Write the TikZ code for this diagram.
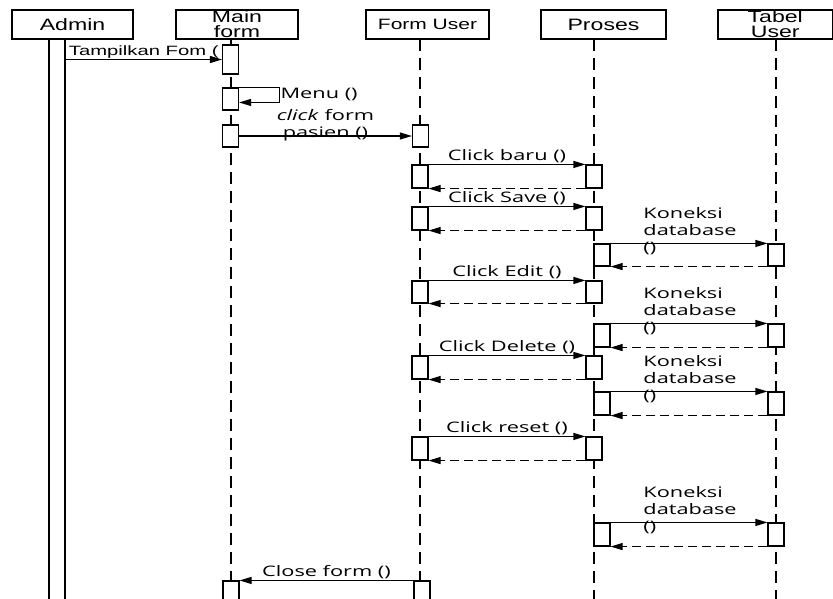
\documentclass[tikz,border=0pt]{standalone}
\usepackage{fontspec}
\newfontfamily\headfont[FakeStretch=1.4]{Liberation Sans}
\newfontfamily\msgfont[FakeStretch=1.5]{Open Sans}
\newfontfamily\tamfont[FakeStretch=1.5]{Liberation Sans}
\usetikzlibrary{arrows.meta}
\tikzset{
	head/.style={draw,line width=1.1pt,minimum height=29pt,inner sep=0pt,align=center,font=\headfont\fontsize{16.5}{15}\selectfont},
	life/.style={line width=1.1pt,dash pattern=on 12pt off 7pt},
	act/.style={draw,fill=white,line width=1.1pt,minimum width=16pt,inner sep=0pt},
	msg/.style={line width=1.1pt,-{Triangle[length=12pt,width=7pt]}},
	ret/.style={msg,dash pattern=on 9pt off 5pt},
	lbl/.style={font=\msgfont\fontsize{14.5}{17}\selectfont,inner sep=1pt},
	kon/.style={lbl,align=left,anchor=west,pos=0.2,yshift=12pt}
}
\newcommand{\activ}[4]{\node[act,minimum height={#4-#3}] (#1) at (#2,{(#3+#4)/2}) {};}

\begin{document}
\begin{tikzpicture}[x=1pt,y=-1pt]
		\useasboundingbox (0,0) rectangle (833,598);
		\node[head,minimum width=121pt] (admin) at (72.5,24.5) {Admin};
		\node[head,minimum width=122pt] (mainform) at (237,24.5) {Main\\form};
		\node[head,minimum width=123pt,font=\headfont\fontsize{15}{15}\selectfont] (formuser) at (427.5,24.5) {Form User};
		\node[head,minimum width=125pt] (proses) at (603.5,24.5) {Proses};
		\node[head,minimum width=114.5pt] (tabeluser) at (775.25,24.5) {Tabel\\User};
		\foreach \x in {231,420,594,776}
			\draw[life] (\x,39) -- (\x,600);
		\activ{adm}{57}{39}{610}
		\activ{m1}{230.5}{45}{74}
		\activ{m2}{230.5}{88}{110}
		\activ{m3}{230.5}{125}{147}
		\activ{f1}{420.5}{125}{147}
		\activ{f2}{420}{165}{188}
		\activ{p2}{594}{165}{188}
		\activ{f3}{420}{207}{230}
		\activ{p3}{594}{207}{230}
		\activ{k1}{602}{244}{266}
		\activ{t1}{776}{244}{266}
		\activ{f4}{420}{281}{303}
		\activ{p4}{594}{281}{303}
		\activ{k2}{602}{324}{347}
		\activ{t2}{776}{324}{347}
		\activ{f5}{420}{356}{379}
		\activ{p5}{594}{356}{379}
		\activ{k3}{602}{392}{415}
		\activ{t3}{776}{392}{415}
		\activ{f6}{420}{437}{460}
		\activ{p6}{594}{437}{460}
		\activ{k4}{602}{523}{546}
		\activ{t4}{776}{523}{546}
		\activ{m4}{231}{581}{610}
		\activ{f7}{422}{581}{610}
		\draw[msg] (adm.east |- m1.west) -- node[above,inner sep=1pt,font=\tamfont\fontsize{13.5}{15}\selectfont] {Tampilkan Fom (} (m1.west);
		\draw[msg] (m2.north east) -- ++(40,0) -- node[lbl,right] {Menu ()} ++(0,15) -- ++(-40,0);
		\draw[msg] (m3.east) -- node[lbl,align=center,yshift=11pt] {\textit{click} form\\pasien ()} (f1.west);
		\draw[msg] (f2.north east) -- node[lbl,above] {Click baru ()} (p2.north west);
		\draw[ret] (p2.south west) -- (f2.south east);
		\draw[msg] (f3.north east) -- node[lbl,above] {Click Save ()} (p3.north west);
		\draw[ret] (p3.south west) -- (f3.south east);
		\draw[msg] (k1.north east) -- node[kon] {Koneksi\\database\\()} (t1.north west);
		\draw[ret] (t1.south west) -- (k1.south east);
		\draw[msg] (f4.north east) -- node[lbl,above] {Click Edit ()} (p4.north west);
		\draw[ret] (p4.south west) -- (f4.south east);
		\draw[msg] (k2.north east) -- node[kon] {Koneksi\\database\\()} (t2.north west);
		\draw[ret] (t2.south west) -- (k2.south east);
		\draw[msg] (f5.north east) -- node[lbl,above] {Click Delete ()} (p5.north west);
		\draw[ret] (p5.south west) -- (f5.south east);
		\draw[msg] (k3.north east) -- node[kon] {Koneksi\\database\\()} (t3.north west);
		\draw[ret] (t3.south west) -- (k3.south east);
		\draw[msg] (f6.north east) -- node[lbl,above] {Click reset ()} (p6.north west);
		\draw[ret] (p6.south west) -- (f6.south east);
		\draw[msg] (k4.north east) -- node[kon] {Koneksi\\database\\()} (t4.north west);
		\draw[ret] (t4.south west) -- (k4.south east);
		\draw[msg] (f7.north west) -- node[lbl,above] {Close form ()} (m4.north east);
\end{tikzpicture}
\end{document}
